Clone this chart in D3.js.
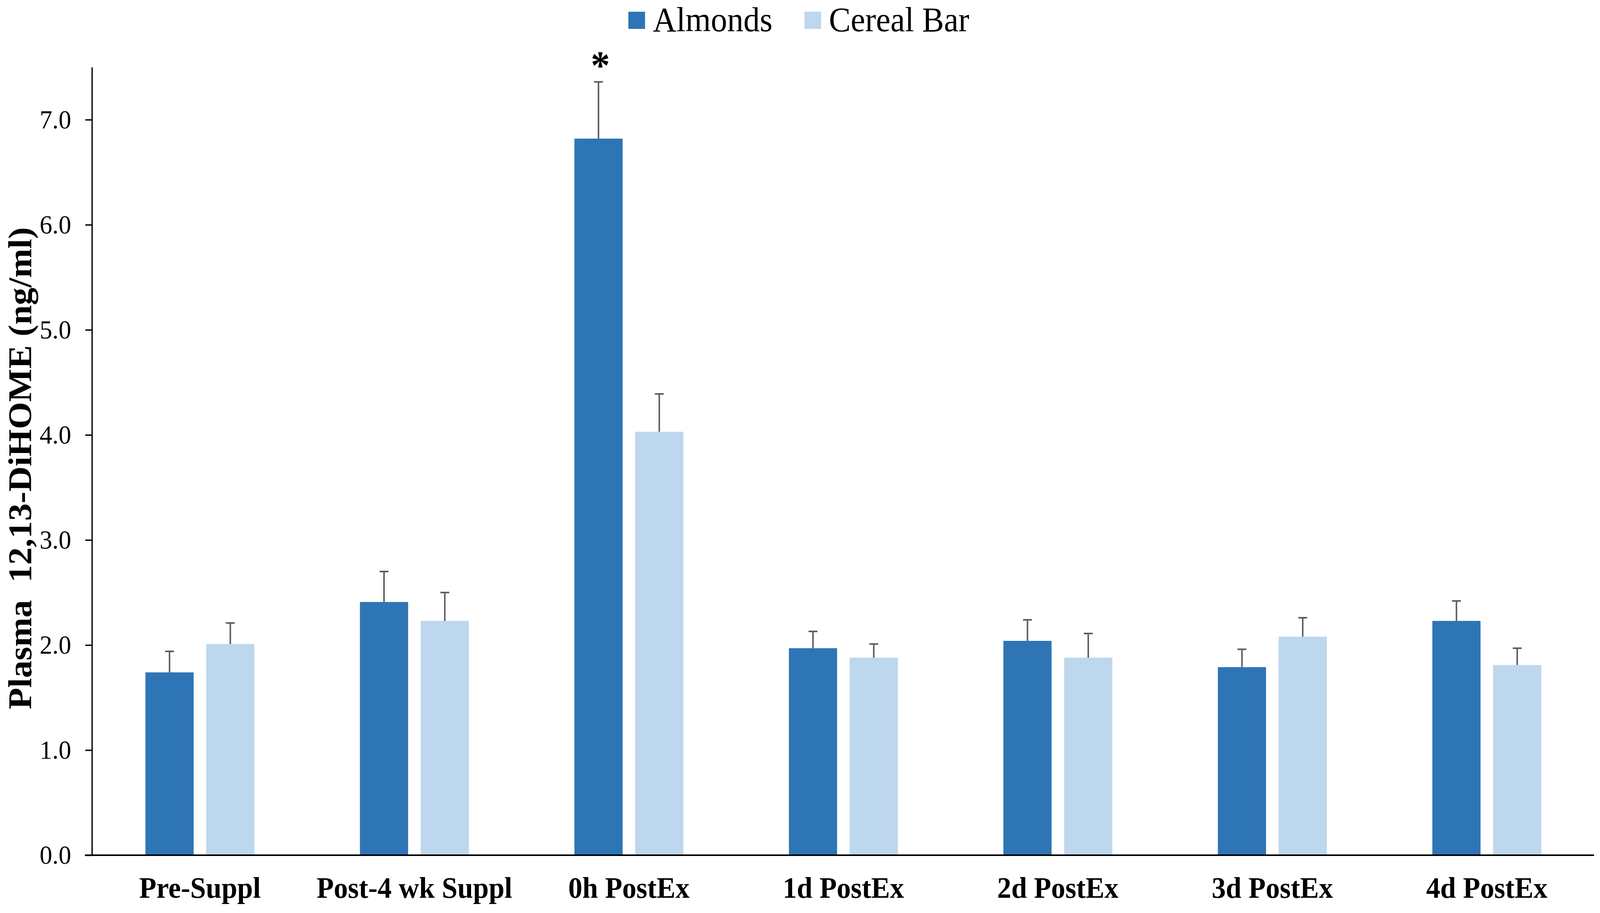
<!DOCTYPE html>
<html>
<head>
<meta charset="utf-8">
<script src="https://cdn.jsdelivr.net/npm/d3@7"></script>
<style>
  html, body { margin: 0; padding: 0; background: #fff; overflow: hidden; }
  svg { display: block; width: 100vw; height: 100vh; font-family: 'Liberation Serif', 'Times New Roman', serif; }
  .axis text { fill: #000; }
</style>
</head>
<body>
<svg id="chart" viewBox="0 0 4316 2338" preserveAspectRatio="none"></svg>
<script>
// Timepoints (x categories)
const categories = ['Pre-Suppl', 'Post-4 wk Suppl', '0h PostEx', '1d PostEx', '2d PostEx', '3d PostEx', '4d PostEx']
const seriesNames = ['Almonds', 'Cereal Bar']

// Means and error (SE), ng/ml
const almonds = [1.74, 2.41, 6.82, 1.97, 2.04, 1.79, 2.23]
const almondsErr = [0.20, 0.29, 0.54, 0.16, 0.20, 0.17, 0.19]
const cerealBar = [2.01, 2.23, 4.03, 1.88, 1.88, 2.08, 1.81]
const cerealBarErr = [0.20, 0.27, 0.36, 0.13, 0.23, 0.18, 0.16]

const yTicks = [0, 1, 2, 3, 4, 5, 6, 7]
const significant = ['0h PostEx'] // asterisk over Almonds bar

const colors = { 'Almonds': '#2e75b6', 'Cereal Bar': '#bdd7ee' }

const svg = d3.select('#chart')
const plotLeft = 250, plotRight = 4300, plotTop = 172, plotBottom = 2190

const x = d3.scaleBand()
  .domain(categories)
  .range([plotLeft, plotRight])
  .paddingInner(0.492)
  .paddingOuter(0.246)

const xs = d3.scaleBand()
  .domain(seriesNames)
  .range([0, x.bandwidth()])
  .paddingInner(0.207)

const y = d3.scaleLinear()
  .domain([0, 7.5])
  .range([plotBottom, plotTop])

// rows for bars
const rows = categories.flatMap((c, i) => [
  { cat: c, series: 'Almonds', value: almonds[i], err: almondsErr[i] },
  { cat: c, series: 'Cereal Bar', value: cerealBar[i], err: cerealBarErr[i] },
])
const cx = (d) => x(d.cat) + xs(d.series) + xs.bandwidth() / 2

// Bars
svg.append('g')
  .selectAll('rect')
  .data(rows)
  .join('rect')
  .attr('x', (d) => x(d.cat) + xs(d.series))
  .attr('y', (d) => y(d.value))
  .attr('width', xs.bandwidth())
  .attr('height', (d) => y(0) - y(d.value))
  .attr('fill', (d) => colors[d.series])

// Error bars (upper only)
const eb = svg.append('g')
  .attr('stroke', '#5a5a5a')
  .attr('stroke-width', 4)
eb.selectAll('line.v')
  .data(rows)
  .join('line')
  .attr('class', 'v')
  .attr('x1', cx)
  .attr('x2', cx)
  .attr('y1', (d) => y(d.value))
  .attr('y2', (d) => y(d.value + d.err))
eb.selectAll('line.cap')
  .data(rows)
  .join('line')
  .attr('class', 'cap')
  .attr('x1', (d) => cx(d) - 12)
  .attr('x2', (d) => cx(d) + 12)
  .attr('y1', (d) => y(d.value + d.err))
  .attr('y2', (d) => y(d.value + d.err))

// Significance asterisk
svg.append('g')
  .selectAll('text')
  .data(rows.filter((d) => d.series === 'Almonds' && significant.includes(d.cat)))
  .join('text')
  .attr('x', (d) => cx(d) + 5)
  .attr('y', (d) => y(d.value + d.err) - 8)
  .attr('text-anchor', 'middle')
  .attr('font-size', 104)
  .attr('font-weight', 'bold')
  .text('*')

// Y axis
const yAxis = svg.append('g')
  .attr('class', 'axis')
  .attr('transform', `translate(${plotLeft - 2},0)`)
  .call(d3.axisLeft(y).tickValues(yTicks).tickFormat(d3.format('.1f')).tickSize(18).tickSizeOuter(0).tickPadding(38))
yAxis.select('.domain').attr('stroke', '#000').attr('stroke-width', 3.5)
yAxis.selectAll('.tick line').attr('stroke', '#000').attr('stroke-width', 3.5)
yAxis.selectAll('.tick text').attr('font-size', 68).attr('font-family', "'Liberation Serif', serif")

// X axis
const xAxis = svg.append('g')
  .attr('class', 'axis')
  .attr('transform', `translate(0,${plotBottom})`)
  .call(d3.axisBottom(x).tickSize(0).tickSizeOuter(0))
xAxis.select('.domain').remove()
xAxis.append('line')
  .attr('x1', plotLeft - 21)
  .attr('x2', plotRight)
  .attr('stroke', '#000')
  .attr('stroke-width', 4)
xAxis.selectAll('.tick text')
  .attr('y', 109)
  .attr('dy', 0)
  .attr('font-size', 76)
  .attr('font-weight', 'bold')
  .attr('font-family', "'Liberation Serif', serif")

// Y axis title
svg.append('text')
  .attr('transform', 'translate(84,1199) rotate(-90)')
  .attr('text-anchor', 'middle')
  .attr('font-size', 90)
  .attr('font-weight', 'bold')
  .attr('xml:space', 'preserve')
  .text('Plasma  12,13-DiHOME (ng/ml)')

// Legend
const legendX = [1695, 2170]
const legend = svg.append('g')
  .selectAll('g')
  .data(seriesNames)
  .join('g')
  .attr('transform', (d, i) => `translate(${legendX[i]},0)`)
legend.append('rect')
  .attr('x', 0)
  .attr('y', 30)
  .attr('width', 45)
  .attr('height', 44)
  .attr('fill', (d) => colors[d])
legend.append('text')
  .attr('x', 66)
  .attr('y', 80)
  .attr('font-size', 88)
  .text((d) => d)
</script>
</body>
</html>
